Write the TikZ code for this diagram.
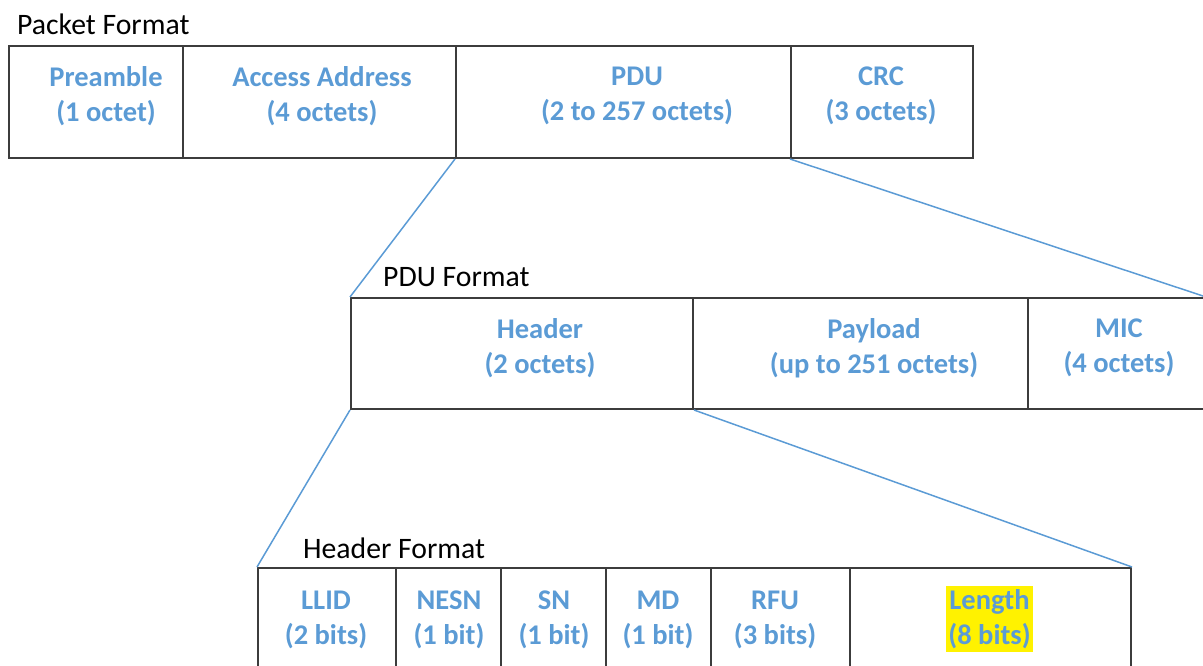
\documentclass[tikz,border=0pt]{standalone}
\usepackage{fontspec}
\setmainfont{Carlito}
\definecolor{fieldblue}{RGB}{91,155,213}
\definecolor{framegray}{RGB}{60,60,60}
\begin{document}
\begin{tikzpicture}[x=1pt,y=-1pt,
  cellbox/.style={draw=framegray,line width=2pt,inner sep=0pt,anchor=north west},
  field/.style={font=\fontsize{28.5}{35}\selectfont\bfseries,text=fieldblue,align=center,inner sep=0pt},
  caption/.style={font=\fontsize{29.7}{35}\selectfont,text=black,anchor=base west,inner sep=0pt},
  zoomline/.style={draw=fieldblue,line width=1.5pt}]
\useasboundingbox (0,0) rectangle (1203,666);
\clip (0,0) rectangle (1203,666);

% ---------------- Packet format ----------------
\node[caption] (pktcap) at (17,35) {Packet Format};
\node[cellbox,minimum width=174pt,minimum height=112pt] (pre) at (8,45) {};
\node[cellbox,minimum width=273pt,minimum height=112pt] (aa)  at (182,45) {};
\node[cellbox,minimum width=335pt,minimum height=112pt] (pdu) at (455,45) {};
\node[cellbox,minimum width=182pt,minimum height=112pt] (crc) at (790,45) {};
\node[field] (preT) at (106,96) {Preamble\\(1 octet)};
\node[field] (aaT)  at (322,96) {Access Address\\(4 octets)};
\node[field] (pduT) at (637,96) {PDU\\(2 to 257 octets)};
\node[field] (crcT) at (881,96) {CRC\\(3 octets)};

% ---------------- PDU format ----------------
\node[caption] (pducap) at (383,286) {PDU Format};
\node[cellbox,minimum width=342pt,minimum height=111pt] (hdr) at (350,297) {};
\node[cellbox,minimum width=335pt,minimum height=111pt] (pay) at (692,297) {};
\node[cellbox,minimum width=177pt,minimum height=111pt] (mic) at (1027,297) {};
\node[field] (hdrT) at (540,348) {Header\\(2 octets)};
\node[field] (payT) at (874,348) {Payload\\(up to 251 octets)};
\node[field] (micT) at (1119,348) {MIC\\(4 octets)};

% ---------------- Header format ----------------
\node[caption] (hdrcap) at (303,558) {Header Format};
\node[cellbox,minimum width=138pt,minimum height=120pt] (llid) at (257,567) {};
\node[cellbox,minimum width=105pt,minimum height=120pt] (nesn) at (395,567) {};
\node[cellbox,minimum width=105pt,minimum height=120pt] (sn)   at (500,567) {};
\node[cellbox,minimum width=105pt,minimum height=120pt] (md)   at (605,567) {};
\node[cellbox,minimum width=139pt,minimum height=120pt] (rfu)  at (710,567) {};
\node[cellbox,minimum width=281pt,minimum height=120pt] (len)  at (849,567) {};
\node[field] (llidT) at (326,620) {LLID\\(2 bits)};
\node[field] (nesnT) at (449,620) {NESN\\(1 bit)};
\node[field] (snT)   at (554,620) {SN\\(1 bit)};
\node[field] (mdT)   at (658,620) {MD\\(1 bit)};
\node[field] (rfuT)  at (775,620) {RFU\\(3 bits)};
\node[field,fill=yellow,inner xsep=2pt,inner ysep=3pt] (lenT) at (989.5,619) {Length\\(8 bits)};

% ---------------- zoom connectors ----------------
\draw[zoomline] (pdu.south west) -- (hdr.north west);
\draw[zoomline] (crc.south west) -- (mic.north east);
\draw[zoomline] (hdr.south west) -- (llid.north west);
\draw[zoomline] (hdr.south east) -- (len.north east);
\end{tikzpicture}
\end{document}
